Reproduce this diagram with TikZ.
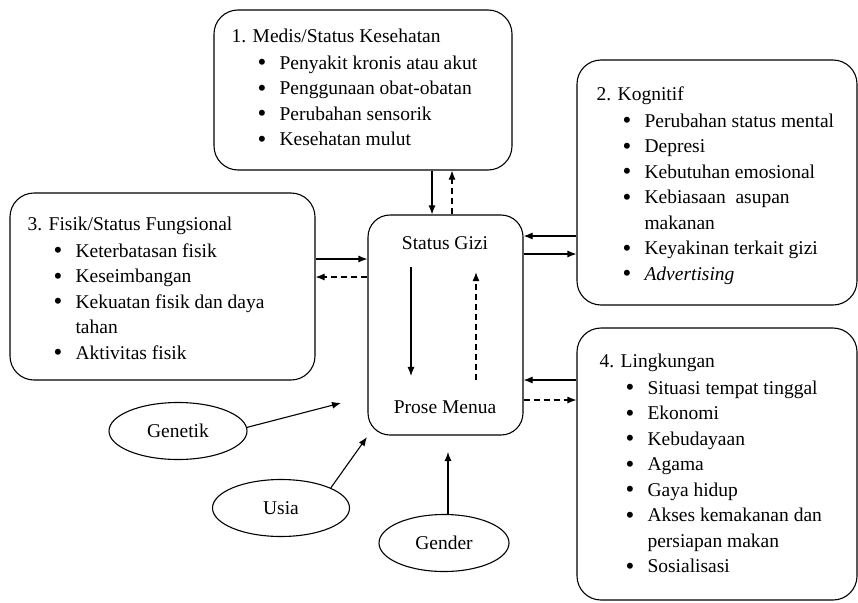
\documentclass[tikz,border=0pt]{standalone}
\usepackage{fontspec}
\setmainfont{Liberation Serif}
\usepackage{tikz}
\usetikzlibrary{positioning, arrows.meta, shapes.geometric}

\newcommand{\itm}{\hspace*{26pt}\makebox[22pt][l]{\raisebox{-1.5pt}{\fontsize{25}{25}\selectfont\textbullet}}}
\newcommand{\cnt}{\hspace*{48pt}}

\begin{document}
\begin{tikzpicture}[x=1pt, y=-1pt, >={Latex[length=9pt,width=7pt]}, line width=1.1pt,
        font=\fontsize{19.5}{25.5}\selectfont,
        box/.style={draw, rounded corners=24pt, inner sep=0pt},
        txt/.style={anchor=north west, inner sep=0pt, align=left},
        oval/.style={draw, ellipse, inner sep=0pt, minimum height=57pt},
        dsh/.style={dash pattern=on 6pt off 4pt}]
        \useasboundingbox (0,0) rectangle (858,602);

        % Nodes
        \node (medis) [box, minimum width=298pt, minimum height=160pt] at (363,90) {};
        \node (medisT) [txt] at (231,28) {1. Medis/Status Kesehatan\\[1.5pt]
            \itm Penyakit kronis atau akut\\ \itm Penggunaan obat-obatan\\
            \itm Perubahan sensorik\\ \itm Kesehatan mulut};
        \node (kognitif) [box, minimum width=280pt, minimum height=245pt] at (717,182.5) {};
        \node (kognitifT) [txt] at (596,86) {2. Kognitif\\[1.5pt]
            \itm Perubahan status mental\\ \itm Depresi\\ \itm Kebutuhan emosional\\
            \itm Kebiasaan~ asupan\\ \cnt makanan\\ \itm Keyakinan terkait gizi\\
            \itm \textit{Advertising}};
        \node (fisik) [box, minimum width=305pt, minimum height=187pt] at (162.5,286.5) {};
        \node (fisikT) [txt] at (27,216) {3. Fisik/Status Fungsional\\[1.5pt]
            \itm Keterbatasan fisik\\ \itm Keseimbangan\\ \itm Kekuatan fisik dan daya\\
            \cnt tahan\\ \itm Aktivitas fisik};
        \node (lingkungan) [box, minimum width=280pt, minimum height=272pt] at (717,464) {};
        \node (lingkunganT) [txt] at (599,353) {4. Lingkungan\\[1.5pt]
            \itm Situasi tempat tinggal\\ \itm Ekonomi\\ \itm Kebudayaan\\ \itm Agama\\
            \itm Gaya hidup\\ \itm Akses kemakanan dan\\ \cnt persiapan makan\\
            \itm Sosialisasi};
        \node (gizi) [box, rounded corners=22pt, minimum width=155pt, minimum height=220pt] at (445.5,325) {};
        \node (status) [inner sep=0pt] at (445,243) {Status Gizi};
        \node (menua) [inner sep=0pt] at (445,407) {Prose Menua};
        \node (genetik) [oval, minimum width=138pt] at (178,431) {Genetik};
        \node (usia) [oval, minimum width=137pt] at (281,508) {Usia};
        \node (gender) [oval, minimum width=130pt] at (444,543) {Gender};
        \coordinate (genTip) at (341,403);
        \coordinate (usiaTip) at (367,437);
        \coordinate (genderTip) at (448,452);

        % Arrows
        \draw[->] ([xshift=-13.5pt]gizi.north |- medis.south) -- ([xshift=-13.5pt]gizi.north);
        \draw[->, dsh] ([xshift=6.5pt]gizi.north) -- ([xshift=6.5pt]gizi.north |- medis.south);
        \draw[->] ([yshift=66pt]gizi.west -| fisik.east) -- ([yshift=66pt]gizi.west);
        \draw[->, dsh] ([yshift=48pt]gizi.west) -- ([yshift=48pt]gizi.west -| fisik.east);
        \draw[->] ([yshift=89pt]gizi.east -| kognitif.west) -- ([yshift=89pt]gizi.east);
        \draw[->] ([yshift=71pt]gizi.east) -- ([yshift=71pt]gizi.east -| kognitif.west);
        \draw[->] ([yshift=-55pt]gizi.east -| lingkungan.west) -- ([yshift=-55pt]gizi.east);
        \draw[->, dsh] ([yshift=-75pt]gizi.east) -- ([yshift=-75pt]gizi.east -| lingkungan.west);
        \draw[->, shorten <=17pt, shorten >=24pt] ([xshift=-34pt]status.south) -- ([xshift=-34pt]menua.north);
        \draw[->, dsh, shorten <=20pt, shorten >=22pt] ([xshift=31pt]menua.north) -- ([xshift=31pt]status.south);
        \draw[->] (genetik.3) -- (genTip);
        \draw[->] (usia.22) -- (usiaTip);
        \draw[->] ([xshift=4pt]gender.north) -- (genderTip);

\end{tikzpicture}
\end{document}
